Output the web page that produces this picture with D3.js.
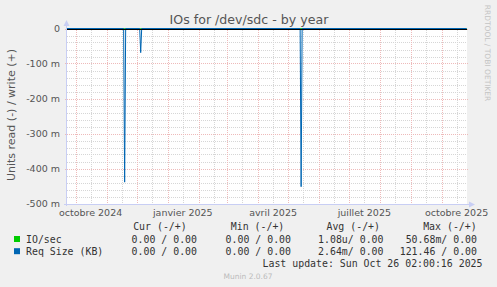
<!DOCTYPE html>
<html>
<head>
<meta charset="utf-8">
<script src="https://cdn.jsdelivr.net/npm/d3@7"></script>
<style>
  html, body { margin: 0; padding: 0; background: #f0f0f0; }
  svg { display: block; }
</style>
</head>
<body>
<svg id="chart"></svg>
<script>
var width = 497;
var height = 287;

// series data (read side drawn negative, in units)
var pointDates = ["2024-09-22", "2024-11-18", "2024-11-19", "2024-11-20",
                  "2024-12-04", "2024-12-05", "2024-12-06",
                  "2025-05-13", "2025-05-14", "2025-05-15", "2025-10-26"];
var reqSizeRead = [0, 0, -0.439, 0, 0, -0.069, 0, 0, -0.452, 0, 0];
var ioRead      = [0, 0, 0, 0, 0, 0, 0, 0, 0, 0, 0];

var yTicks = [0, -0.1, -0.2, -0.3, -0.4, -0.5];
var yTickLabels = ["0", "-100 m", "-200 m", "-300 m", "-400 m", "-500 m"];
var xLabelDates = ["2024-10-16", "2025-01-16", "2025-04-16", "2025-07-16", "2025-10-16"];
var xLabels = ["octobre 2024", "janvier 2025", "avril 2025", "juillet 2025", "octobre 2025"];

var legendNames = ["IO/sec", "Req Size (KB)"];
var legendColors = ["#00cc00", "#0066b3"];
var legendHeaders = ["Cur (-/+)", "Min (-/+)", "Avg (-/+)", "Max (-/+)"];
var curValues = ["0.00 / 0.00", "0.00 / 0.00"];
var minValues = ["0.00 / 0.00", "0.00 / 0.00"];
var avgValues = ["1.08u/ 0.00", "2.64m/ 0.00"];
var maxValues = ["50.68m/ 0.00", "121.46 / 0.00"];

var parse = d3.timeParse("%Y-%m-%d");

var plotLeft = 67, plotTop = 28, plotW = 400, plotH = 175;

var svg = d3.select("#chart")
  .attr("width", width)
  .attr("height", height)
  .style("font-family", "'DejaVu Sans', sans-serif");

var x = d3.scaleTime()
  .domain([new Date(2024, 8, 22, 12), new Date(2025, 9, 26, 10)])
  .range([plotLeft, plotLeft + plotW]);

var y = d3.scaleLinear()
  .domain([-0.5, 0])
  .range([plotTop + plotH + 0.5, plotTop + 0.5]);

// plot background
svg.append("rect")
  .attr("x", plotLeft).attr("y", plotTop)
  .attr("width", plotW).attr("height", plotH + 1)
  .attr("fill", "white");

var grid = svg.append("g").attr("shape-rendering", "crispEdges");

// minor horizontal grid every 20 m
var minorY = d3.range(0, 26).map(function(i) { return -i * 0.02; });
grid.selectAll(".hminor")
  .data(minorY.filter(function(v, i) { return i % 5 !== 0; }))
  .enter().append("line")
  .attr("x1", plotLeft).attr("x2", plotLeft + plotW)
  .attr("y1", function(d) { return Math.round(y(d)) + 0.5; })
  .attr("y2", function(d) { return Math.round(y(d)) + 0.5; })
  .attr("stroke", "#d6d6d6")
  .attr("stroke-dasharray", "1,1");

// minor vertical grid on the 16th of each month
var days16 = d3.timeMonths(new Date(2024, 8, 1), new Date(2025, 10, 1))
  .map(function(d) { return new Date(d.getFullYear(), d.getMonth(), 16); })
  .filter(function(d) { return d >= x.domain()[0] && d <= x.domain()[1]; });
grid.selectAll(".vminor")
  .data(days16)
  .enter().append("line")
  .attr("x1", function(d) { return Math.round(x(d)) + 0.5; })
  .attr("x2", function(d) { return Math.round(x(d)) + 0.5; })
  .attr("y1", plotTop).attr("y2", plotTop + plotH)
  .attr("stroke", "#d6d6d6")
  .attr("stroke-dasharray", "1,1");

// major grid: months and 100 m
var months = x.ticks(d3.timeMonth.every(1));
grid.selectAll(".vmajor")
  .data(months)
  .enter().append("line")
  .attr("x1", function(d) { return Math.round(x(d)) + 0.5; })
  .attr("x2", function(d) { return Math.round(x(d)) + 0.5; })
  .attr("y1", plotTop).attr("y2", plotTop + plotH + 3)
  .attr("stroke", "#eebaba")
  .attr("stroke-dasharray", "1,1");

grid.selectAll(".hmajor")
  .data(yTicks)
  .enter().append("line")
  .attr("x1", plotLeft - 2).attr("x2", plotLeft + plotW + 2)
  .attr("y1", function(d) { return Math.round(y(d)) + 0.5; })
  .attr("y2", function(d) { return Math.round(y(d)) + 0.5; })
  .attr("stroke", "#eebaba")
  .attr("stroke-dasharray", "1,1");

// series
var points = pointDates.map(function(d, i) {
  return { date: parse(d), req: reqSizeRead[i], io: ioRead[i] };
});

svg.append("path")
  .datum(points)
  .attr("fill", "none")
  .attr("stroke", legendColors[0])
  .attr("d", d3.line().x(function(d) { return x(d.date); }).y(function(d) { return y(d.io); }));

svg.append("path")
  .datum(points)
  .attr("fill", "none")
  .attr("stroke", legendColors[1])
  .attr("stroke-width", 1)
  .attr("d", d3.line().x(function(d) { return x(d.date); }).y(function(d) { return y(d.req); }));

// zero line
svg.append("line")
  .attr("x1", plotLeft).attr("x2", plotLeft + plotW)
  .attr("y1", Math.round(y(0)) + 0.5).attr("y2", Math.round(y(0)) + 0.5)
  .attr("stroke", "black")
  .attr("shape-rendering", "crispEdges");

// axes
var axisColor = "#c8cef4";
svg.append("line")
  .attr("x1", plotLeft - 0.5).attr("x2", plotLeft - 0.5)
  .attr("y1", plotTop + plotH + 3).attr("y2", plotTop - 6)
  .attr("stroke", axisColor).attr("shape-rendering", "crispEdges");
svg.append("line")
  .attr("x1", plotLeft - 3).attr("x2", plotLeft + plotW + 4)
  .attr("y1", Math.round(y(-0.5)) + 0.5).attr("y2", Math.round(y(-0.5)) + 0.5)
  .attr("stroke", axisColor).attr("shape-rendering", "crispEdges");
svg.append("path")
  .attr("d", "M" + (plotLeft - 3.5) + "," + (plotTop - 2) + "L" + (plotLeft - 0.5) + "," + (plotTop - 8) + "L" + (plotLeft + 2.5) + "," + (plotTop - 2) + "Z")
  .attr("fill", axisColor);
var by = Math.round(y(-0.5)) + 0.5;
svg.append("path")
  .attr("d", "M" + (plotLeft + plotW + 2) + "," + (by - 3) + "L" + (plotLeft + plotW + 8) + "," + by + "L" + (plotLeft + plotW + 2) + "," + (by + 3) + "Z")
  .attr("fill", axisColor);

// y labels
svg.selectAll(".ylab")
  .data(yTicks)
  .enter().append("text")
  .attr("x", 60)
  .attr("y", function(d) { return y(d) + 3.5; })
  .attr("text-anchor", "end")
  .attr("font-size", "9.5px")
  .attr("fill", "#555")
  .text(function(d, i) { return yTickLabels[i]; });

// x labels
svg.selectAll(".xlab")
  .data(xLabelDates)
  .enter().append("text")
  .attr("x", function(d) { return x(parse(d)); })
  .attr("y", 216)
  .attr("text-anchor", "middle")
  .attr("font-size", "9.5px")
  .attr("fill", "#555")
  .text(function(d, i) { return xLabels[i]; });

// title
svg.append("text")
  .attr("x", 249).attr("y", 24)
  .attr("text-anchor", "middle")
  .attr("font-size", "12.6px")
  .attr("fill", "#555")
  .text("IOs for /dev/sdc - by year");

// y title
svg.append("text")
  .attr("transform", "translate(15,115) rotate(-90)")
  .attr("text-anchor", "middle")
  .attr("font-size", "11px")
  .attr("fill", "#555")
  .text("Units read (-) / write (+)");

// watermark
svg.append("text")
  .attr("transform", "translate(485,53) rotate(90)")
  .attr("text-anchor", "middle")
  .attr("font-size", "7.5px")
  .attr("fill", "#c4c4c4")
  .text("RRDTOOL / TOBI OETIKER");

// legend
var mono = "'DejaVu Sans Mono', monospace";
var headerEnds = [186.7, 284.3, 380, 476.7];
var valueEnds = [197, 291, 383.5, 477];
var columns = [curValues, minValues, avgValues, maxValues];

svg.selectAll(".lhead")
  .data(legendHeaders)
  .enter().append("text")
  .attr("x", function(d, i) { return headerEnds[i]; })
  .attr("y", 230)
  .attr("text-anchor", "end")
  .attr("font-family", mono)
  .attr("font-size", "9.9px")
  .attr("fill", "#333")
  .text(function(d) { return d; });

legendNames.forEach(function(name, r) {
  var yy = 242.5 + r * 12.2;
  svg.append("rect")
    .attr("x", 14).attr("y", yy - 6.5)
    .attr("width", 6).attr("height", 6)
    .attr("fill", legendColors[r]);
  svg.append("text")
    .attr("x", 26).attr("y", yy)
    .attr("font-family", mono)
    .attr("font-size", "9.9px")
    .attr("fill", "#333")
    .text(name);
  columns.forEach(function(col, c) {
    svg.append("text")
      .attr("x", valueEnds[c]).attr("y", yy)
      .attr("text-anchor", "end")
      .attr("font-family", mono)
      .attr("font-size", "9.9px")
      .attr("fill", "#333")
      .text(col[r]);
  });
});

svg.append("text")
  .attr("x", 482.5).attr("y", 266.8)
  .attr("text-anchor", "end")
  .attr("font-family", mono)
  .attr("font-size", "9.9px")
  .attr("fill", "#333")
  .text("Last update: Sun Oct 26 02:00:16 2025");

svg.append("text")
  .attr("x", 248).attr("y", 278.5)
  .attr("text-anchor", "middle")
  .attr("font-size", "7.5px")
  .attr("fill", "#bbb")
  .text("Munin 2.0.67");
</script>
</body>
</html>
